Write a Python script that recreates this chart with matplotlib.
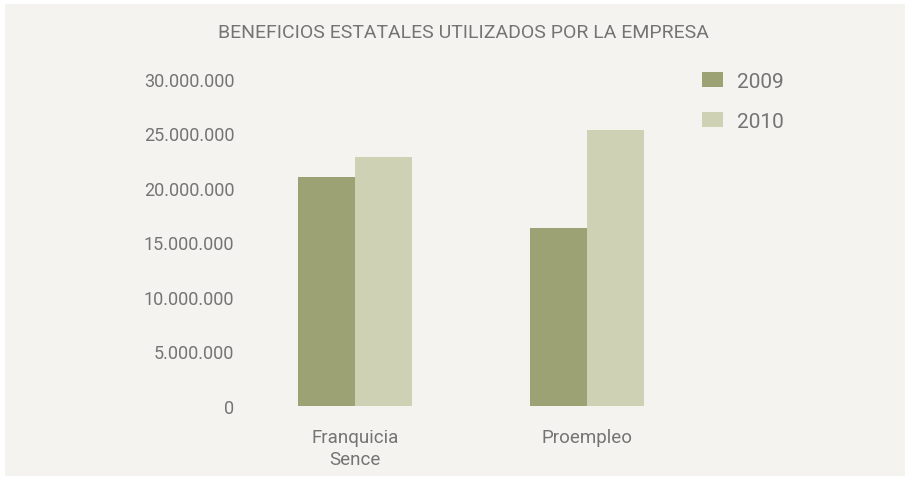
import matplotlib
matplotlib.use("Agg")
import matplotlib.pyplot as plt
from matplotlib.patches import Rectangle
from matplotlib.ticker import FuncFormatter

# data
categories = ["Franquicia\nSence", "Proempleo"]
series_names = ["2009", "2010"]
values_2009 = [21000000, 16300000]
values_2010 = [22800000, 25300000]
y_ticks = [0, 5000000, 10000000, 15000000, 20000000, 25000000, 30000000]

col_2009 = "#9da274"
col_2010 = "#ced1b4"
bg = "#f4f3ef"
txt = "#747474"

plt.rcParams["font.family"] = ["Roboto", "DejaVu Sans"]

W, H = 909, 481
fig = plt.figure(figsize=(W / 100, H / 100), dpi=100)
fig.patch.set_facecolor("white")
fig.patches.append(Rectangle((5 / W, 1 - 477 / H), 900 / W, 472 / H,
                             transform=fig.transFigure, facecolor=bg,
                             edgecolor="none", zorder=-10))

# axes in pixel coords: x 240..700, y 80..407
ax = fig.add_axes([240 / W, 1 - 407 / H, 460 / W, 327 / H])
ax.set_facecolor("none")

x = [0, 1]
bw = 0.246
ax.bar([i - bw / 2 for i in x], values_2009, width=bw, color=col_2009, label=series_names[0])
ax.bar([i + bw / 2 for i in x], values_2010, width=bw, color=col_2010, label=series_names[1])

ax.set_xlim(-115 / 232, 1 + 113 / 232)
ax.set_ylim(0, 30000000)
ax.set_yticks(y_ticks)
ax.yaxis.set_major_formatter(FuncFormatter(lambda v, p: f"{int(v):,}".replace(",", ".")))
ax.set_xticks(x)
ax.set_xticklabels(categories, linespacing=1.3)
ax.tick_params(axis="y", length=0, pad=4, labelsize=13, labelcolor=txt)
ax.tick_params(axis="x", length=0, pad=16, labelsize=13.5, labelcolor=txt)
for s in ax.spines.values():
    s.set_visible(False)

fig.text(463 / W, 1 - 33 / H, "BENEFICIOS ESTATALES UTILIZADOS POR LA EMPRESA",
         ha="center", va="center", fontsize=14, color=txt)

leg = ax.legend(loc="upper left", bbox_to_anchor=(702 / W, 1 - 73 / H),
                bbox_transform=fig.transFigure, frameon=False, fontsize=15,
                handlelength=1.0, handleheight=0.7, handletextpad=0.7,
                labelspacing=1.0, borderaxespad=0, borderpad=0)
for t in leg.get_texts():
    t.set_color(txt)

fig.savefig("out.png", dpi=100, facecolor="white")
